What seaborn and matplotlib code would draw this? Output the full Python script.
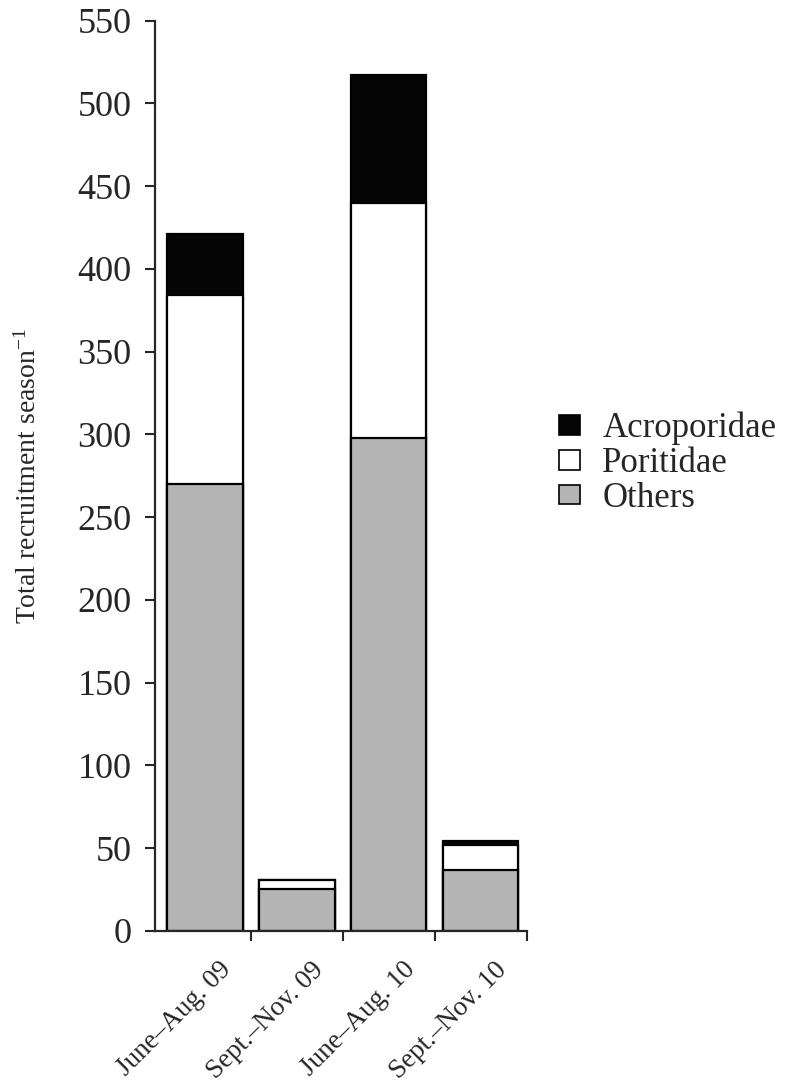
import pandas as pd
import matplotlib
matplotlib.use("Agg")
import matplotlib.pyplot as plt
import matplotlib.transforms as mtransforms
from matplotlib.patches import Patch
import seaborn as sns

# --- data ---
seasons = ["June\u2013Aug. 09", "Sept.\u2013Nov. 09", "June\u2013Aug. 10", "Sept.\u2013Nov. 10"]
others = [270, 25, 298, 37]
poritidae = [114, 6, 142, 15]
acroporidae = [37, 0, 77, 2]
families = ["Acroporidae", "Poritidae", "Others"]
fam_colors = {"Acroporidae": "#050505", "Poritidae": "#ffffff", "Others": "#b4b4b4"}

df = pd.DataFrame({"Season": seasons, "Others": others,
                   "Poritidae": poritidae, "Acroporidae": acroporidae})
# cumulative heights for stacking (draw tallest first, overlay shorter ones)
df["cum_others"] = df["Others"]
df["cum_pori"] = df["Others"] + df["Poritidae"]
df["cum_acro"] = df["cum_pori"] + df["Acroporidae"]

sns.set_style("ticks")
plt.rcParams["font.family"] = ["Liberation Serif", "DejaVu Serif"]
plt.rcParams["mathtext.fontset"] = "custom"
plt.rcParams["mathtext.rm"] = "Liberation Serif"
plt.rcParams["mathtext.it"] = "Liberation Serif:italic"

fig = plt.figure(figsize=(7.92, 10.9), dpi=100)
ax = fig.add_axes([0.196, 0.146, 0.469, 0.835])

bar_kw = dict(order=seasons, width=0.82, edgecolor="black", linewidth=1.6, saturation=1)
sns.barplot(data=df, x="Season", y="cum_acro", color=fam_colors["Acroporidae"], ax=ax, **bar_kw)
sns.barplot(data=df, x="Season", y="cum_pori", color=fam_colors["Poritidae"], ax=ax, **bar_kw)
sns.barplot(data=df, x="Season", y="cum_others", color=fam_colors["Others"], ax=ax, **bar_kw)

ax.set_xlim(-0.54, 3.5)
ax.set_ylim(0, 550)
ax.set_yticks(range(0, 551, 50))
ax.tick_params(axis="y", labelsize=26, length=7, width=1.5, pad=10)

# boundary ticks between categories, labels at category centres
ax.set_xticks([0.5, 1.5, 2.5, 3.5])
ax.set_xticklabels([])
ax.tick_params(axis="x", which="major", length=7, width=1.5)
ax.set_xticks(range(len(seasons)), minor=True)
ax.set_xticklabels(seasons, minor=True, rotation=45, ha="right",
                   rotation_mode="anchor", fontsize=19.5)
ax.tick_params(axis="x", which="minor", length=0, pad=19)
offset = mtransforms.ScaledTranslation(10 / 72, 0, fig.dpi_scale_trans)
for lbl in ax.get_xticklabels(minor=True):
    lbl.set_transform(lbl.get_transform() + offset)

ax.set_xlabel("")
ax.set_ylabel("Total recruitment season$^{-1}$", fontsize=20, labelpad=26)

for side in ["top", "right"]:
    ax.spines[side].set_visible(False)
for side in ["left", "bottom"]:
    ax.spines[side].set_linewidth(1.6)

handles = [Patch(facecolor=fam_colors[f], edgecolor="black", linewidth=1.2) for f in families]
fig.legend(handles, families, loc="center left", bbox_to_anchor=(0.688, 0.575),
           frameon=False, fontsize=25, handlelength=0.6, handleheight=0.5,
           handletextpad=0.65, labelspacing=0.05, borderaxespad=0)

fig.savefig("out.png", dpi=100)
